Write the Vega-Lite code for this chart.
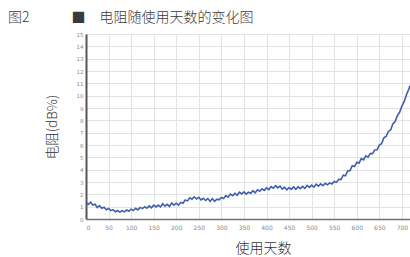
{
  "$schema": "https://vega.github.io/schema/vega-lite/v6.json",
  "width": 324,
  "height": 185,
  "autosize": "none",
  "padding": {"left": 86, "top": 34, "right": 0, "bottom": 38},
  "background": "white",
  "title": {
    "text": "图2\u3000\u3000\u3000■\u3000电阻随使用天数的变化图",
    "anchor": "start",
    "frame": "group",
    "dx": -78,
    "offset": 7,
    "font": "Noto Sans CJK SC",
    "fontSize": 14,
    "fontWeight": 300,
    "color": "#3a3a3a"
  },
  "config": {
    "view": {"stroke": "#c8c8c8", "strokeWidth": 1},
    "axis": {"labelFont": "DejaVu Sans", "titleFont": "Noto Sans CJK SC"}
  },
  "data": {"values": [
    {"day":0,"r":1.35},{"day":5,"r":1.18},{"day":10,"r":1.37},{"day":15,"r":1.13},{"day":20,"r":1.2},{"day":25,"r":0.93},{"day":30,"r":1.08},{"day":35,"r":0.87},{"day":40,"r":0.95},{"day":45,"r":0.75},
    {"day":50,"r":0.85},{"day":55,"r":0.68},{"day":60,"r":0.76},{"day":65,"r":0.58},{"day":70,"r":0.69},{"day":75,"r":0.56},{"day":80,"r":0.67},{"day":85,"r":0.58},{"day":90,"r":0.73},{"day":95,"r":0.63},
    {"day":100,"r":0.8},{"day":105,"r":0.69},{"day":110,"r":0.87},{"day":115,"r":0.74},{"day":120,"r":0.94},{"day":125,"r":0.84},{"day":130,"r":1.0},{"day":135,"r":0.87},{"day":140,"r":1.06},{"day":145,"r":0.9},
    {"day":150,"r":1.12},{"day":155,"r":0.98},{"day":160,"r":1.13},{"day":165,"r":0.98},{"day":170,"r":1.24},{"day":175,"r":1.04},{"day":180,"r":1.19},{"day":185,"r":1.02},{"day":190,"r":1.3},{"day":195,"r":1.12},
    {"day":200,"r":1.28},{"day":205,"r":1.13},{"day":210,"r":1.35},{"day":215,"r":1.28},{"day":220,"r":1.55},{"day":225,"r":1.47},{"day":230,"r":1.72},{"day":235,"r":1.61},{"day":240,"r":1.8},{"day":245,"r":1.62},
    {"day":250,"r":1.75},{"day":255,"r":1.54},{"day":260,"r":1.68},{"day":265,"r":1.5},{"day":270,"r":1.66},{"day":275,"r":1.44},{"day":280,"r":1.65},{"day":285,"r":1.43},{"day":290,"r":1.61},{"day":295,"r":1.55},
    {"day":300,"r":1.75},{"day":305,"r":1.66},{"day":310,"r":1.9},{"day":315,"r":1.77},{"day":320,"r":2.02},{"day":325,"r":1.89},{"day":330,"r":2.08},{"day":335,"r":1.92},{"day":340,"r":2.17},{"day":345,"r":2.03},
    {"day":350,"r":2.2},{"day":355,"r":2.02},{"day":360,"r":2.17},{"day":365,"r":2.09},{"day":370,"r":2.3},{"day":375,"r":2.12},{"day":380,"r":2.37},{"day":385,"r":2.25},{"day":390,"r":2.45},{"day":395,"r":2.32},
    {"day":400,"r":2.53},{"day":405,"r":2.38},{"day":410,"r":2.62},{"day":415,"r":2.5},{"day":420,"r":2.7},{"day":425,"r":2.52},{"day":430,"r":2.67},{"day":435,"r":2.42},{"day":440,"r":2.58},{"day":445,"r":2.36},
    {"day":450,"r":2.55},{"day":455,"r":2.4},{"day":460,"r":2.6},{"day":465,"r":2.4},{"day":470,"r":2.62},{"day":475,"r":2.46},{"day":480,"r":2.65},{"day":485,"r":2.48},{"day":490,"r":2.72},{"day":495,"r":2.57},
    {"day":500,"r":2.75},{"day":505,"r":2.58},{"day":510,"r":2.82},{"day":515,"r":2.66},{"day":520,"r":2.85},{"day":525,"r":2.7},{"day":530,"r":2.9},{"day":535,"r":2.77},{"day":540,"r":2.93},{"day":545,"r":2.84},
    {"day":550,"r":3.05},{"day":555,"r":2.97},{"day":560,"r":3.22},{"day":565,"r":3.2},{"day":570,"r":3.55},{"day":575,"r":3.5},{"day":580,"r":3.9},{"day":585,"r":3.92},{"day":590,"r":4.32},{"day":595,"r":4.25},
    {"day":600,"r":4.6},{"day":605,"r":4.53},{"day":610,"r":4.9},{"day":615,"r":4.8},{"day":620,"r":5.12},{"day":625,"r":5.02},{"day":630,"r":5.3},{"day":635,"r":5.3},{"day":640,"r":5.6},{"day":645,"r":5.62},
    {"day":650,"r":6.0},{"day":655,"r":6.1},{"day":660,"r":6.58},{"day":665,"r":6.69},{"day":670,"r":7.1},{"day":675,"r":7.22},{"day":680,"r":7.7},{"day":685,"r":7.9},{"day":690,"r":8.38},{"day":695,"r":8.65},
    {"day":700,"r":9.16},{"day":705,"r":9.51},{"day":710,"r":10.05},{"day":715,"r":10.5},{"day":718,"r":10.8}
  ]},
  "mark": {"type": "line", "color": "#3f5fa8", "strokeWidth": 1.6, "clip": true},
  "encoding": {
    "x": {
      "field": "day", "type": "quantitative",
      "scale": {"domain": [0, 718], "nice": false},
      "axis": {
        "values": [0,50,100,150,200,250,300,350,400,450,500,550,600,650,700],
        "title": "使用天数",
        "titleFontSize": 14, "titleFontWeight": 300, "titleColor": "#333",
        "titleX": 177, "titleY": 33, "titleBaseline": "alphabetic",
        "labelFontSize": 6, "labelColor": "#8a8a8a", "labelPadding": 5,
        "ticks": false,
        "domainColor": "#707070", "domainWidth": 1.5,
        "gridColor": "#e3e3e3", "gridWidth": 1
      }
    },
    "y": {
      "field": "r", "type": "quantitative",
      "scale": {"domain": [0, 15], "nice": false},
      "axis": {
        "values": [0,1,2,3,4,5,6,7,8,9,10,11,12,13,14,15],
        "title": "电阻(dB%)",
        "titleFontSize": 13.5, "titleFontWeight": 300, "titleColor": "#333",
        "titleX": -27, "titlePadding": 8,
        "labelFontSize": 5.5, "labelColor": "#8a8a8a", "labelPadding": 3,
        "ticks": false,
        "domainColor": "#555", "domainWidth": 2,
        "gridColor": "#e3e3e3", "gridWidth": 1
      }
    }
  }
}
